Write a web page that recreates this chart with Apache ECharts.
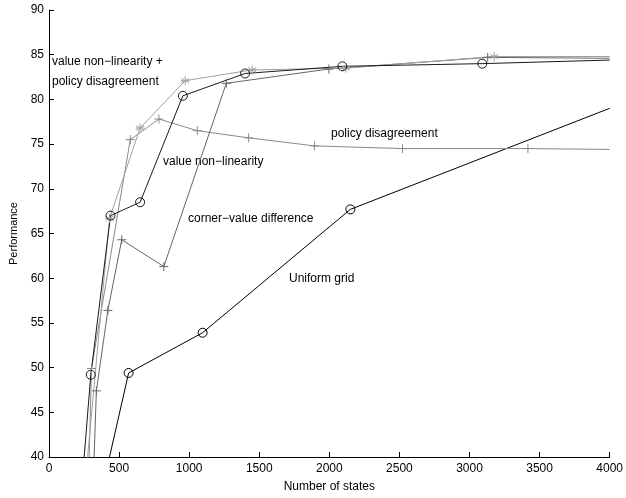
<!DOCTYPE html>
<html>
<head>
<meta charset="utf-8">
<script src="https://cdn.jsdelivr.net/npm/echarts@6/dist/echarts.min.js"></script>
<style>html,body{margin:0;padding:0;background:#fff}#c{width:626px;height:498px}</style>
</head>
<body>
<div id="c"></div>
<script>
// [states, performance]
var uniformGrid = [[300, 30.9], [568, 49.4], [1096, 53.9], [2150, 67.7], [4000, 79.0]];
var valueNonLinearity = [[200, 30.0], [298, 49.2], [439, 67.0], [650, 68.5], [955, 80.4], [1399, 82.9], [2093, 83.7], [3091, 84.0], [4000, 84.4]];
var policyDisagreement = [[280, 36.0], [303, 49.9], [580, 75.5], [784, 77.8], [1058, 76.5], [1424, 75.7], [1894, 74.8], [2522, 74.5], [3417, 74.5], [4000, 74.4]];
var cornerValueDifference = [[310, 34.6], [338, 47.4], [420, 56.4], [519, 64.3], [819, 61.3], [1265, 81.8], [1997, 83.4], [3130, 84.7], [4000, 84.6]];
var valueNonLinPolicy = [[250, 35.7], [432, 66.7], [650, 76.8], [972, 82.1], [1450, 83.3], [2119, 83.5], [3177, 84.8], [4000, 84.8]];

var xTicks = [0, 500, 1000, 1500, 2000, 2500, 3000, 3500, 4000];
var yTicks = [40, 45, 50, 55, 60, 65, 70, 75, 80, 85, 90];

var FONT = 'Liberation Sans, Arial, sans-serif';
var PLUS = 'path://M0,-4L0,4M-4,0L4,0';
var STAR = 'path://M0,-4L0,4M-3.5,-2L3.5,2M-3.5,2L3.5,-2M-4,0L4,0';
var RING = 'path://M4,0A4,4 0 1 1 -4,0A4,4 0 1 1 4,0Z';

function mk(name, data, color, symbol, size) {
  var last = data.length - 1;
  return {
    name: name, type: 'line', clip: true,
    data: data.map(function (d, i) { return i === last ? {value: d, symbol: 'none'} : d; }),
    symbol: symbol, symbolSize: size, showAllSymbol: true, symbolKeepAspect: true,
    lineStyle: {color: color, width: 1},
    itemStyle: {color: 'none', borderColor: color, borderWidth: 1},
    emphasis: {disabled: true},
    animation: false
  };
}

var chart = echarts.init(document.getElementById('c'));
chart.setOption({
  backgroundColor: '#fff',
  animation: false,
  grid: {left: 47, right: 11, top: 10, bottom: 41},
  xAxis: {
    type: 'value', min: xTicks[0], max: xTicks[xTicks.length - 1], interval: 500,
    name: 'Number of states', nameLocation: 'middle', nameGap: 24,
    nameTextStyle: {color: '#000', fontFamily: FONT, fontSize: 12},
    axisLine: {lineStyle: {color: '#000', width: 1}},
    axisTick: {inside: true, length: 5, lineStyle: {color: '#000'}},
    axisLabel: {color: '#000', fontFamily: FONT, fontSize: 12, margin: 6, formatter: function (v) { return String(v); }},
    splitLine: {show: false}
  },
  yAxis: {
    type: 'value', min: yTicks[0], max: yTicks[yTicks.length - 1], interval: 5,
    name: 'Performance', nameLocation: 'middle', nameGap: 30, nameRotate: 90,
    nameTextStyle: {color: '#000', fontFamily: FONT, fontSize: 11},
    axisLine: {show: true, lineStyle: {color: '#000', width: 1}},
    axisTick: {show: true, inside: true, length: 5, lineStyle: {color: '#000'}},
    axisLabel: {color: '#000', fontFamily: FONT, fontSize: 12, margin: 5, formatter: function (v) { return String(v); }},
    splitLine: {show: false}
  },
  series: [
    mk('Uniform grid', uniformGrid, '#000', RING, 9),
    mk('policy disagreement', policyDisagreement, '#8a8a8a', PLUS, 9),
    mk('corner-value difference', cornerValueDifference, '#666', PLUS, 9),
    mk('value non-linearity + policy disagreement', valueNonLinPolicy, '#a0a0a0', STAR, 9),
    mk('value non-linearity', valueNonLinearity, '#1a1a1a', RING, 9)
  ],
  graphic: [
    {type: 'text', left: 52, top: 56, style: {text: 'value non\u2212linearity +', font: '12px ' + FONT, fill: '#000'}},
    {type: 'text', left: 52, top: 76, style: {text: 'policy disagreement', font: '12px ' + FONT, fill: '#000'}},
    {type: 'text', left: 163, top: 156, style: {text: 'value non\u2212linearity', font: '12px ' + FONT, fill: '#000'}},
    {type: 'text', left: 331, top: 128, style: {text: 'policy disagreement', font: '12px ' + FONT, fill: '#000'}},
    {type: 'text', left: 188, top: 213, style: {text: 'corner\u2212value difference', font: '12px ' + FONT, fill: '#000'}},
    {type: 'text', left: 289, top: 273, style: {text: 'Uniform grid', font: '12px ' + FONT, fill: '#000'}}
  ]
});
</script>
</body>
</html>
